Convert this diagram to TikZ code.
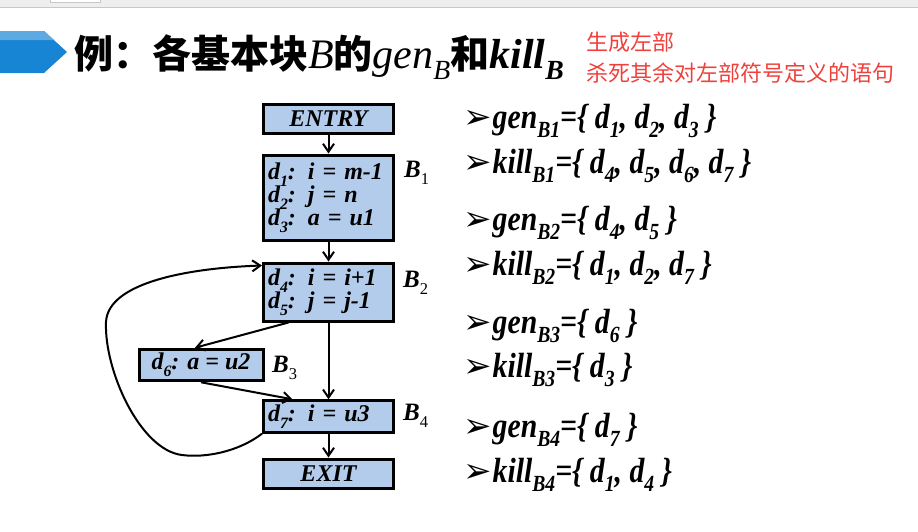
\documentclass[tikz,border=0pt]{standalone}
\usepackage{fontspec}
\setmainfont{Liberation Serif}
\newfontfamily\cjk{Noto Sans CJK SC}
\newfontfamily\listfont[FakeStretch=0.85]{Liberation Serif}
\newfontfamily\symfont{DejaVu Sans}
\usetikzlibrary{arrows.meta,positioning}

\definecolor{boxblue}{HTML}{B4CCEB}
\definecolor{bannerblue}{HTML}{1784D4}
\definecolor{bannerlight}{HTML}{5DAAE3}
\definecolor{notered}{HTML}{F0403C}
\definecolor{topgray}{HTML}{EEEEEE}
\definecolor{edgegray}{HTML}{C8C8C8}

\newcommand{\lo}[1]{\raisebox{-0.28em}{\scalebox{0.66}{#1}}}
\newcommand{\itemmark}{{\symfont\mdseries\upshape\fontsize{34}{34}\selectfont ➢}\hspace{1pt}}
\newcommand{\ttlatin}[1]{{\rmfamily\fontsize{42}{42}\selectfont\itshape #1}}

\tikzset{
  blk/.style={draw=black, fill=boxblue, line width=3pt, minimum width=130pt,
    inner sep=4pt, font=\fontsize{24}{24}\selectfont\bfseries\itshape},
  blklbl/.style={anchor=west, inner sep=0pt, font=\fontsize{25}{26}\selectfont\bfseries\itshape},
  flow/.style={line width=2pt, -{Straight Barb[length=8pt,width=11pt]}},
  setitem/.style={anchor=base west, inner sep=0pt, font=\fontsize{35}{36}\listfont\bfseries\itshape},
  note/.style={anchor=west, inner sep=0pt, text=notered, font=\cjk\fontsize{22}{22}\selectfont},
}

\begin{document}
\begin{tikzpicture}[x=1pt, y=-1pt]
  \useasboundingbox (0,0) rectangle (918,531);
  % window strip at the top
  \fill[topgray] (0,0) rectangle (918,7);
  \draw[edgegray, line width=1pt] (0,7.5) -- (918,7.5);
  \draw[edgegray, fill=white, line width=0.8pt] (50,-2) rectangle (100,2);

  % banner and title
  \fill[bannerblue] (0,31) -- (44,31) -- (67,52) -- (44,73) -- (0,73) -- cycle;
  \fill[bannerlight] (0,31) -- (44,31) -- (54,40) -- (0,40) -- cycle;
  \node[anchor=base west, inner sep=0pt] (title) at (74,68)
    {\cjk\bfseries\fontsize{39}{39}\selectfont 例：各基本块\ttlatin{\mdseries B}的\ttlatin{\mdseries gen\lo{B}}和\ttlatin{\bfseries kill\lo{B}}};
  \node[note] (note1) at (586,42) {生成左部};
  \node[note] (note2) at (586,73) {杀死其余对左部符号定义的语句};

  % flow graph
  \node[blk, minimum height=29pt] (entry) at (328.5,118.5) {ENTRY};
  \node[blk, minimum height=85pt, text width=121pt, align=left] (b1) at (328.5,197.5)
    {d\lo{1}: i = m-1\\[-1pt] d\lo{2}: j = n\\[-1pt] d\lo{3}: a = u1};
  \node[blk, minimum height=58pt, text width=121pt, align=left] (b2) at (328.5,292)
    {d\lo{4}: i = i+1\\[-1pt] d\lo{5}: j = j-1};
  \node[blk, minimum width=124pt, minimum height=30pt] (b3) at (201,365)
    {d\lo{6}: a = u2};
  \node[blk, minimum height=31pt, text width=121pt, align=left] (b4) at (328.5,416.5)
    {d\lo{7}: i = u3};
  \node[blk, minimum height=29pt] (exit) at (328.5,473.5) {EXIT};

  \node[blklbl] (lb1) at (404,173) {B\lo{\mdseries\upshape 1}};
  \node[blklbl] (lb2) at (403,283) {B\lo{\mdseries\upshape 2}};
  \node[blklbl] (lb3) at (272,368) {B\lo{\mdseries\upshape 3}};
  \node[blklbl] (lb4) at (403,416) {B\lo{\mdseries\upshape 4}};

  \draw[flow] (entry) -- (b1);
  \draw[flow] (b1) -- (b2);
  \draw[flow] (b2) -- (b4);
  \draw[flow] ([xshift=-40pt]b2.south) -- ([xshift=-6pt]b3.north);
  \draw[flow] (b3.south) -- ([xshift=-36pt]b4.north);
  \draw[flow] (b4) -- (exit);
  \draw[flow] (b4.south west) .. controls (238,452) and (205,458) .. (182,455)
    .. controls (140,450) and (104,370) .. (106,322)
    .. controls (108,282) and (190,268) .. ([yshift=-4pt]b2.north west);

  % gen and kill sets
  \node[setitem] (genb1) at (463,128) {\itemmark gen\lo{B1}=\{ d\lo{1}, d\lo{2}, d\lo{3} \}};
  \node[setitem] (killb1) at (463,173) {\itemmark kill\lo{B1}=\{ d\lo{4}, d\lo{5}, d\lo{6}, d\lo{7} \}};
  \node[setitem] (genb2) at (463,230) {\itemmark gen\lo{B2}=\{ d\lo{4}, d\lo{5} \}};
  \node[setitem] (killb2) at (463,275) {\itemmark kill\lo{B2}=\{ d\lo{1}, d\lo{2}, d\lo{7} \}};
  \node[setitem] (genb3) at (463,333) {\itemmark gen\lo{B3}=\{ d\lo{6} \}};
  \node[setitem] (killb3) at (463,377) {\itemmark kill\lo{B3}=\{ d\lo{3} \}};
  \node[setitem] (genb4) at (463,437) {\itemmark gen\lo{B4}=\{ d\lo{7} \}};
  \node[setitem] (killb4) at (463,482) {\itemmark kill\lo{B4}=\{ d\lo{1}, d\lo{4} \}};
\end{tikzpicture}
\end{document}
